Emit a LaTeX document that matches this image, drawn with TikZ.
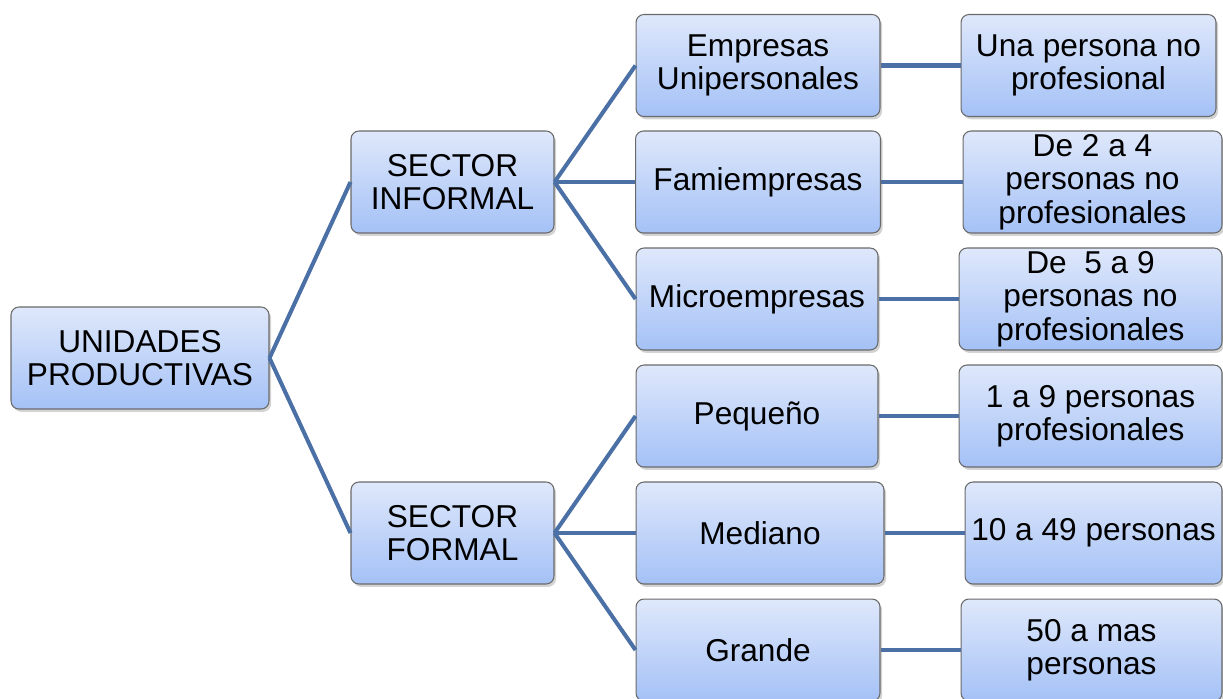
\documentclass[tikz,border=0pt]{standalone}
\usepackage{fontspec}
\setmainfont{Liberation Sans}
\usetikzlibrary{shadows}
\usepackage{xcolor}
\definecolor{boxtop}{HTML}{DFE8FB}
\definecolor{boxbot}{HTML}{A4C1F6}
\definecolor{boxline}{HTML}{6A6A6A}
\definecolor{linkblue}{HTML}{4A70A6}

\begin{document}
\begin{tikzpicture}[x=0.02cm, y=-0.02cm,
    box/.style = {draw=boxline, line width=0.6pt, rounded corners=4.5pt,
                top color=boxtop, bottom color=boxbot, align=center,
                minimum width=#1, minimum height=2.04cm, inner sep=0pt,
                font=\fontsize{18}{19}\selectfont,
                drop shadow={shadow xshift=1.2pt, shadow yshift=-1.6pt,
                             opacity=0.35}},
    box/.default = 4.88cm,  % width of the boxes in the third column
    link/.style = {draw=linkblue, line width=2.3pt}
                    ]
    \useasboundingbox (0,0) rectangle (1223,698);
    \def\ca{140}
    \def\cb{452.5}
    \def\cc{758}
    \def\cd{1091}
    % first and second column
    \node[box=5.16cm] at (\ca,358) (up) {UNIDADES\\PRODUCTIVAS};
    \node[box=4.06cm] at (\cb,182) (si) {SECTOR\\INFORMAL};
    \node[box=4.06cm] at (\cb,533) (sf) {SECTOR\\FORMAL};
    % third column
    \node[box] at (\cc,65.5) (eu) {Empresas\\Unipersonales};
    \node[box=4.9cm] at (\cc,182) (fam) {Famiempresas};
    \node[box=4.84cm] at (\cc-1,299) (mic) {Microempresas};
    \node[box=4.84cm] at (\cc-1,416) (peq) {Pequeño};
    \node[box=4.96cm] at (\cc+2,533) (med) {Mediano};
    \node[box] at (\cc,650) (gra) {Grande};
    % fourth column
    \node[box=5.1cm] at (\cd-2.5,65.5) (una) {Una persona no\\profesional};
    \node[box=5.18cm] at (\cd+1.5,182) (dos) {De 2 a 4\\personas no\\profesionales};
    \node[box=5.26cm] at (\cd-0.5,299) (cinco) {De~~5 a 9\\personas no\\profesionales};
    \node[box=5.26cm] at (\cd-0.5,416) (uno) {1 a 9 personas\\profesionales};
    \node[box=5.14cm] at (\cd+2.5,533) (diez) {10 a 49 personas};
    \node[box=5.22cm] at (\cd+0.5,650) (cincuenta) {50 a mas\\personas};
    \draw[link] (up.east) -- (si.west);
    \draw[link] (up.east) -- (sf.west);
    \draw[link] (si.east) -- (eu.west);
    \draw[link] (si.east) -- (fam.west);
    \draw[link] (si.east) -- (mic.west);
    \draw[link] (sf.east) -- (peq.west);
    \draw[link] (sf.east) -- (med.west);
    \draw[link] (sf.east) -- (gra.west);
    \draw[link] (eu.east) -- (una.west);
    \draw[link] (fam.east) -- (dos.west);
    \draw[link] (mic.east) -- (cinco.west);
    \draw[link] (peq.east) -- (uno.west);
    \draw[link] (med.east) -- (diez.west);
    \draw[link] (gra.east) -- (cincuenta.west);
\end{tikzpicture}
\end{document}
